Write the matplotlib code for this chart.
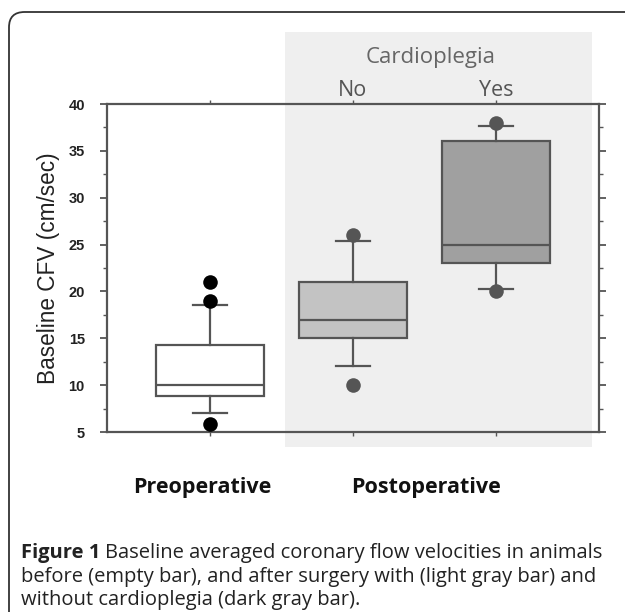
import matplotlib
matplotlib.use("Agg")
import matplotlib.pyplot as plt
from matplotlib.patches import Rectangle, FancyBboxPatch
from matplotlib.ticker import MultipleLocator

# values
groups = ["Preoperative", "No", "Yes"]
q1 = [8.8, 15.0, 23.0]
medians = [10.0, 17.0, 25.0]
q3 = [14.3, 21.0, 36.0]
whis_lo = [7.0, 12.0, 20.3]
whis_hi = [18.5, 25.4, 37.7]
outliers = [[21.0, 19.0, 5.9], [26.0, 10.0], [38.0, 20.0]]
box_colors = ["white", "#c3c3c3", "#a0a0a0"]
flier_colors = ["black", "#555555", "#555555"]
top_labels = ["", "No", "Yes"]

W, H = 625, 612
fig = plt.figure(figsize=(W / 100, H / 100), dpi=100)
fig.patch.set_facecolor("white")

def px(x, y):
    return x / W, 1 - y / H

# rounded frame around the figure panel
fig.patches.append(FancyBboxPatch(px(9, 700), 700 / W, 688 / H,
                                  boxstyle="round,pad=0,rounding_size=0.025",
                                  transform=fig.transFigure, fill=False,
                                  edgecolor="#333333", linewidth=1.3))

# shaded postoperative block
x0, y0 = px(285, 447)
fig.patches.append(Rectangle((x0, y0), (592 - 285) / W, (447 - 32) / H,
                             transform=fig.transFigure, facecolor="#efefef",
                             edgecolor="none", zorder=-5))

ax = fig.add_axes([107 / W, 1 - 432 / H, (599 - 107) / W, (432 - 104) / H])
ax.set_facecolor("none")
ax.set_zorder(2)

stats = []
for i in range(len(groups)):
    stats.append(dict(q1=q1[i], med=medians[i], q3=q3[i],
                      whislo=whis_lo[i], whishi=whis_hi[i], fliers=[]))

line_c = "#555555"
bp = ax.bxp(stats, positions=[1, 2, 3], widths=0.75, patch_artist=True,
            showfliers=False,
            boxprops=dict(edgecolor=line_c, linewidth=1.6),
            medianprops=dict(color=line_c, linewidth=1.6),
            whiskerprops=dict(color=line_c, linewidth=1.6),
            capprops=dict(color=line_c, linewidth=1.6), capwidths=0.24)
for patch, c in zip(bp["boxes"], box_colors):
    patch.set_facecolor(c)

for i, pts in enumerate(outliers):
    ax.scatter([i + 1] * len(pts), pts, s=110, color=flier_colors[i],
               zorder=5, linewidths=0)

ax.set_xlim(0.28, 3.72)
ax.set_ylim(5, 40)
ax.yaxis.set_major_locator(MultipleLocator(5))
ax.yaxis.set_minor_locator(MultipleLocator(2.5))
ax.set_xticks([1, 2, 3])
ax.set_xticklabels([])
ax.tick_params(axis="x", which="both", top=True, bottom=True, direction="out",
               length=3, color=line_c, width=1)
ax.tick_params(axis="y", which="major", left=True, right=True, direction="out",
               length=5, color=line_c, width=1.3)
ax.tick_params(axis="y", which="minor", left=True, right=True, direction="out",
               length=3, color=line_c, width=1)
ax.tick_params(axis="y", labelsize=10.5, pad=11, labelcolor="#222222")
for lab in ax.get_yticklabels():
    lab.set_fontweight("bold")
    lab.set_family("Liberation Sans")
for s in ax.spines.values():
    s.set_color(line_c)
    s.set_linewidth(1.6)

ax.set_ylabel("Baseline CFV (cm/sec)", fontsize=16.3, family="Liberation Sans",
              color="#222222", labelpad=6)

sec = ax.secondary_xaxis("top")
sec.set_xticks([1, 2, 3])
sec.set_xticklabels(top_labels, fontsize=15.5, family="Open Sans", color="#555555")
sec.tick_params(length=0, pad=2)
sec.spines["top"].set_visible(False)

fig.text(431 / W, 1 - 57 / H, "Cardioplegia", ha="center", va="center",
         fontsize=16, family="Open Sans", color="#666666")

fig.text(202 / W, 1 - 488 / H, "Preoperative", ha="center", va="center",
         fontsize=15.5, family="Open Sans", fontweight="bold", color="#111111")
fig.text(426 / W, 1 - 488 / H, "Postoperative", ha="center", va="center",
         fontsize=15.5, family="Open Sans", fontweight="bold", color="#111111")

# caption
cap_kw = dict(fontsize=14.5, family="Open Sans", color="#222222", va="center")
t1 = fig.text(21 / W, 1 - 553 / H, "Figure 1", fontweight="bold", **cap_kw)
fig.canvas.draw()
bb = t1.get_window_extent()
fig.text((bb.x1 + 5) / W, 1 - 553 / H,
         "Baseline averaged coronary flow velocities in animals", **cap_kw)
fig.text(21 / W, 1 - 577 / H,
         "before (empty bar), and after surgery with (light gray bar) and",
         **cap_kw)
fig.text(21 / W, 1 - 600 / H, "without cardioplegia (dark gray bar).",
         **cap_kw)

fig.savefig("out.png", dpi=100)
